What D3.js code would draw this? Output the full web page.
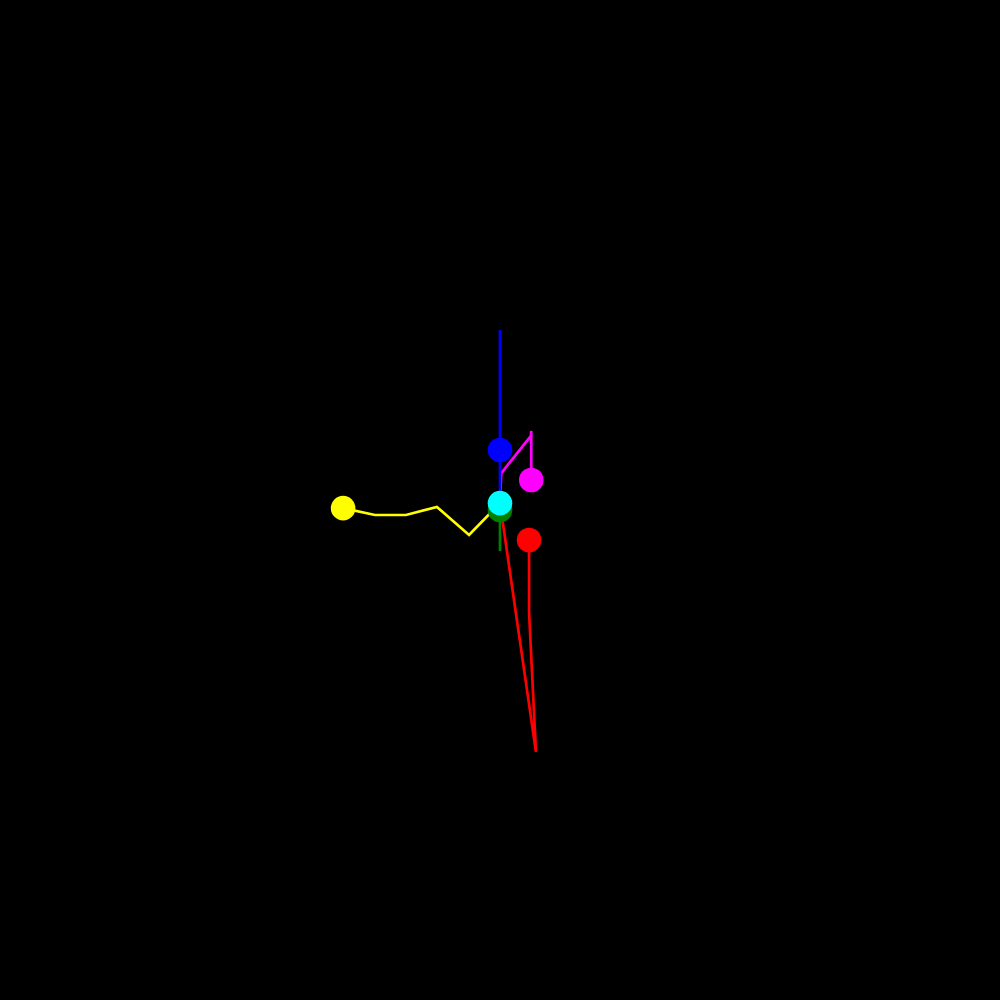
<!DOCTYPE html>
<html>
<head>
<meta charset="utf-8">
<script src="https://cdn.jsdelivr.net/npm/d3@7"></script>
<style>
html, body { margin: 0; padding: 0; background: #000; }
svg { display: block; }
</style>
</head>
<body>
<script>
// Series names and colours (drawing order)
const seriesNames = ["red", "green", "magenta", "blue", "yellow", "cyan"];
const seriesColors = ["#ff0000", "#008000", "#ff00ff", "#0000ff", "#ffff00", "#00ffff"];

// Path points per series (x, y in data units; last point carries the marker)
const redX = [0, 1.15, 0.93, 0.93];
const redY = [-0.1, -8.06, -3.6, -1.28];
const greenX = [0, 0, 0];
const greenY = [-0.1, -1.63, -0.32];
const magentaX = [0, 0.04, 0.99, 1.0, 1.0];
const magentaY = [-0.1, 0.86, 2.05, 2.21, 0.64];
const blueX = [0, 0, 0];
const blueY = [-0.1, 5.44, 1.6];
const yellowX = [0, -0.99, -2.02, -3.01, -4.0, -5.02];
const yellowY = [-0.1, -1.12, -0.22, -0.48, -0.48, -0.26];
const cyanX = [0];
const cyanY = [-0.1];

const xs = [redX, greenX, magentaX, blueX, yellowX, cyanX];
const ys = [redY, greenY, magentaY, blueY, yellowY, cyanY];

const W = 1000, H = 1000;
const x = d3.scaleLinear().domain([-16, 16]).range([0, W]);
const y = d3.scaleLinear().domain([-16, 16]).range([H, 0]);

const svg = d3.select("body").append("svg").attr("width", W).attr("height", H);
svg.append("rect").attr("width", W).attr("height", H).attr("fill", "#000");

const series = seriesNames.map((name, i) => ({
  name,
  color: seriesColors[i],
  points: xs[i].map((v, j) => [v, ys[i][j]])
}));

const line = d3.line().x(d => x(d[0])).y(d => y(d[1]));

svg.append("g").selectAll("path").data(series).join("path")
  .attr("d", d => line(d.points))
  .attr("fill", "none")
  .attr("stroke", d => d.color)
  .attr("stroke-width", 2.7);

svg.append("g").selectAll("circle").data(series).join("circle")
  .attr("cx", d => x(d.points[d.points.length - 1][0]))
  .attr("cy", d => y(d.points[d.points.length - 1][1]))
  .attr("r", 12.3)
  .attr("fill", d => d.color);
</script>
</body>
</html>
